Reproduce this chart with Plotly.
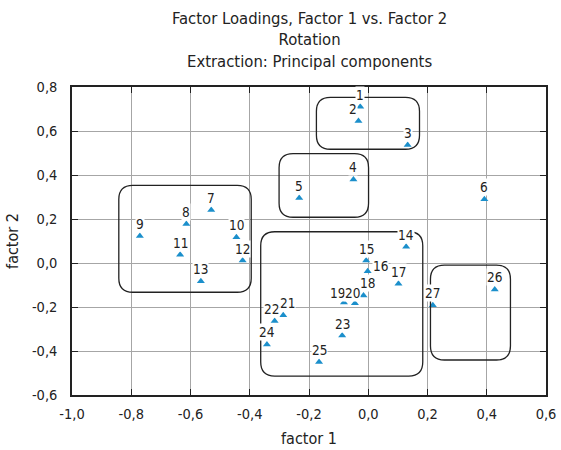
import plotly.graph_objects as go

# ---- data ----
labels = [str(i) for i in range(1, 28)]
factor1 = [-0.027, -0.033, 0.133, -0.050, -0.233, 0.392, -0.530, -0.614, -0.771, -0.445,
           -0.635, -0.424, -0.565, 0.128, -0.007, -0.002, 0.102, -0.016, -0.082, -0.045,
           -0.287, -0.316, -0.088, -0.342, -0.166, 0.427, 0.218]
factor2 = [0.710, 0.645, 0.536, 0.380, 0.295, 0.290, 0.241, 0.177, 0.123, 0.117,
           0.038, 0.011, -0.083, 0.074, 0.011, -0.038, -0.094, -0.148, -0.180, -0.183,
           -0.238, -0.264, -0.330, -0.370, -0.450, -0.120, -0.192]

x_ticks = [-1.0, -0.8, -0.6, -0.4, -0.2, 0.0, 0.2, 0.4, 0.6]
x_ticktext = ["-1,0", "-0,8", "-0,6", "-0,4", "-0,2", "0,0", "0,2", "0,4", "0,6"]
y_ticks = [-0.6, -0.4, -0.2, 0.0, 0.2, 0.4, 0.6, 0.8]
y_ticktext = ["-0,6", "-0,4", "-0,2", "0,0", "0,2", "0,4", "0,6", "0,8"]

# grouping boxes: (x0, x1, y0, y1) in data units
group_boxes = [
    (-0.175, 0.173, 0.517, 0.753),
    (-0.301, 0.001, 0.208, 0.497),
    (-0.842, -0.395, -0.133, 0.353),
    (-0.363, 0.184, -0.514, 0.142),
    (0.210, 0.480, -0.441, -0.010),
]

title_lines = ["Factor Loadings, Factor 1 vs. Factor 2", "Rotation", "Extraction: Principal components"]

FONT = "DejaVu Sans Condensed, Liberation Sans Narrow, DejaVu Sans, sans-serif"
TXT = "#222222"

W, H = 561, 450
ML, MR, MT, MB = 72, 15, 87, 55
plot_h = H - MT - MB

fig = go.Figure()
fig.add_trace(go.Scatter(
    x=factor1, y=factor2, mode="markers",
    marker=dict(symbol="triangle-up", size=7, color="#1b8fcb", line=dict(width=0)),
    hoverinfo="skip", showlegend=False,
))

# label offsets (pixels) for a few crowded labels
xshift = {"2": -5, "16": 13, "18": 4, "19": -6, "20": -2, "21": 4, "22": -3}
yshift = {"16": 5, "19": 10, "20": 10, "18": 13}
annots = []
for lab, xv, yv in zip(labels, factor1, factor2):
    annots.append(dict(
        x=xv, y=yv, xref="x", yref="y", text=lab, showarrow=False,
        xshift=xshift.get(lab, 0), yshift=yshift.get(lab, 12),
        font=dict(family=FONT, size=13.5, color=TXT),
        bgcolor="white", borderpad=0,
    ))

annots.append(dict(
    text="<br>".join(title_lines), showarrow=False,
    x=0.5, xref="paper", xanchor="center",
    y=1 + (MT - 40) / plot_h, yref="paper", yanchor="middle",
    font=dict(family=FONT, size=16.5, color=TXT),
))

# rounded rectangles
rpx = 14
px_per_x = 296.5
px_per_y = 220.0
shapes = []
for (x0, x1, y0, y1) in group_boxes:
    rx = rpx / px_per_x
    ry = rpx / px_per_y
    path = (f"M {x0+rx},{y1} L {x1-rx},{y1} Q {x1},{y1} {x1},{y1-ry} "
            f"L {x1},{y0+ry} Q {x1},{y0} {x1-rx},{y0} "
            f"L {x0+rx},{y0} Q {x0},{y0} {x0},{y0+ry} "
            f"L {x0},{y1-ry} Q {x0},{y1} {x0+rx},{y1} Z")
    shapes.append(dict(type="path", path=path, xref="x", yref="y",
                       line=dict(color="#222222", width=1.3), layer="above"))

fig.update_layout(
    width=W, height=H,
    margin=dict(l=ML, r=MR, t=MT, b=MB, autoexpand=False),
    paper_bgcolor="white", plot_bgcolor="white",
    font=dict(family=FONT, size=14, color=TXT),
    annotations=annots,
    shapes=shapes,
    hovermode=False,
)
axis_common = dict(
    showgrid=True, gridcolor="#a6a6a6", gridwidth=1,
    zeroline=False, showline=True, linecolor="#222222", linewidth=1.5,
    mirror="ticks", ticks="inside", ticklen=6, tickcolor="#222222", tickwidth=1,
    tickfont=dict(family=FONT, size=14.5, color=TXT),
    automargin=False, ticklabeloverflow="allow",
)
fig.update_xaxes(range=[-1.0, 0.6], tickvals=x_ticks, ticktext=x_ticktext,
                 ticklabelstandoff=5,
                 title=dict(text="factor 1", font=dict(family=FONT, size=16, color=TXT), standoff=12),
                 **axis_common)
fig.update_yaxes(range=[-0.6, 0.8], tickvals=y_ticks, ticktext=y_ticktext,
                 ticklabelstandoff=10,
                 title=dict(text="factor 2", font=dict(family=FONT, size=16, color=TXT), standoff=9),
                 **axis_common)

fig.write_html(
    "out.html",
    config={"displayModeBar": False},
    post_script="document.body.style.margin='0px';document.body.style.overflow='hidden';",
)
